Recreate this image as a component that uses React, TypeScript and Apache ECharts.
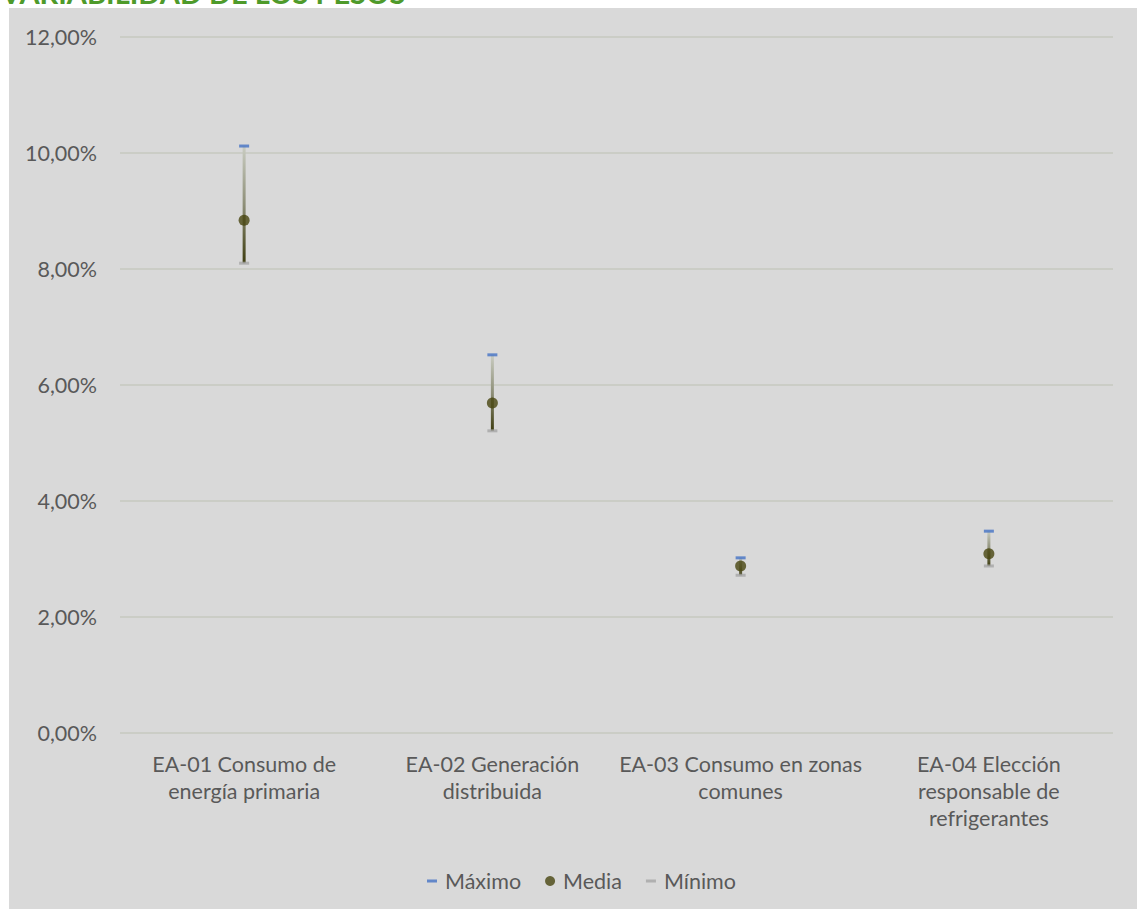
import React, { useEffect, useRef } from "react";
import * as echarts from "echarts";

const categories = [
  "EA-01 Consumo de\nenergía primaria",
  "EA-02 Generación\ndistribuida",
  "EA-03 Consumo en zonas\ncomunes",
  "EA-04 Elección\nresponsable de\nrefrigerantes",
];
const maximo = [0.1012, 0.0652, 0.0302, 0.0348];
const media = [0.0884, 0.0569, 0.0288, 0.0309];
const minimo = [0.081, 0.0521, 0.0272, 0.0288];
const yTicks = { min: 0, max: 0.12, interval: 0.02 };
const titleText = "VARIABILIDAD DE LOS PESOS";

const FONT = "Lato";
const TXT = "#595959";
const FS = 21.5;
const dashIcon = "path://M0,0h0.01v0.01h-0.01zM0,3.5h10v3h-10zM9.99,9.99h0.01v0.01h-0.01z";

export default function App() {
  const ref = useRef<HTMLDivElement>(null);
  useEffect(() => {
    const chart = echarts.init(ref.current!, undefined, { renderer: "svg" });
    const rangeData = categories.map((_, i) => [i, minimo[i], maximo[i]]);
    chart.setOption({
      animation: false,
      backgroundColor: "#ffffff",
      textStyle: { fontFamily: FONT },
      graphic: [
        {
          type: "rect",
          z: -10,
          silent: true,
          shape: { x: 9, y: 8, width: 1200, height: 1000 },
          style: { fill: "#D9D9D9" },
        },
        {
          type: "text",
          x: 1,
          y: 7,
          style: {
            text: titleText,
            fill: "#4E9A2A",
            font: "bold 29px " + FONT,
            textVerticalAlign: "bottom",
            verticalAlign: "bottom",
          },
        },
      ],
      grid: { left: 120, right: 24, top: 37, bottom: 176, containLabel: false },
      legend: {
        left: 422,
        top: 865,
        itemWidth: 10,
        itemHeight: 10,
        itemGap: 24,
        textStyle: { color: TXT, fontSize: FS, fontFamily: FONT, padding: [0, 0, 0, 3] },
        data: [
          { name: "Máximo", icon: dashIcon },
          { name: "Media", icon: "circle" },
          { name: "Mínimo", icon: dashIcon },
        ],
      },
      xAxis: {
        type: "category",
        data: categories,
        axisLine: { show: false },
        axisTick: { show: false },
        axisLabel: {
          color: TXT,
          fontSize: FS,
          fontFamily: FONT,
          lineHeight: 27,
          margin: 17,
          interval: 0,
        },
      },
      yAxis: {
        type: "value",
        min: yTicks.min,
        max: yTicks.max,
        interval: yTicks.interval,
        axisLine: { show: false },
        axisTick: { show: false },
        splitLine: { lineStyle: { color: "#C6C9BF", width: 1.5 } },
        axisLabel: {
          color: TXT,
          fontSize: FS,
          fontFamily: FONT,
          margin: 23,
          formatter: (v: number) => (v * 100).toFixed(2).replace(".", ",") + "%",
        },
      },
      series: [
        {
          type: "custom",
          name: "range",
          z: 1,
          silent: true,
          data: rangeData,
          encode: { x: 0, y: [1, 2] },
          renderItem: (params: any, api: any) => {
            const i = api.value(0);
            const lo = api.coord([i, api.value(1)]);
            const hi = api.coord([i, api.value(2)]);
            return {
              type: "rect",
              shape: { x: lo[0] - 1.5, y: hi[1], width: 3, height: lo[1] - hi[1] },
              style: {
                fill: new echarts.graphic.LinearGradient(0, 0, 0, 1, [
                  { offset: 0, color: "#C9CCC1" },
                  { offset: 0.5, color: "#8E8F78" },
                  { offset: 1, color: "#3E3D10" },
                ]),
              },
            };
          },
        },
        {
          type: "scatter",
          name: "Máximo",
          z: 3,
          symbol: "rect",
          symbolSize: [10, 3],
          itemStyle: { color: "#4472C4" },
          data: maximo,
        },
        {
          type: "scatter",
          name: "Mínimo",
          z: 3,
          symbol: "rect",
          symbolSize: [10, 3],
          itemStyle: { color: "#A5A5A5" },
          data: minimo,
        },
        {
          type: "scatter",
          name: "Media",
          z: 4,
          symbol: "circle",
          symbolSize: 11,
          itemStyle: { color: "#47450F" },
          data: media,
        },
      ],
    });
    return () => chart.dispose();
  }, []);
  return (
    <div
      ref={ref}
      style={{ position: "absolute", left: 0, top: 0, width: 1137, height: 909 }}
    />
  );
}
